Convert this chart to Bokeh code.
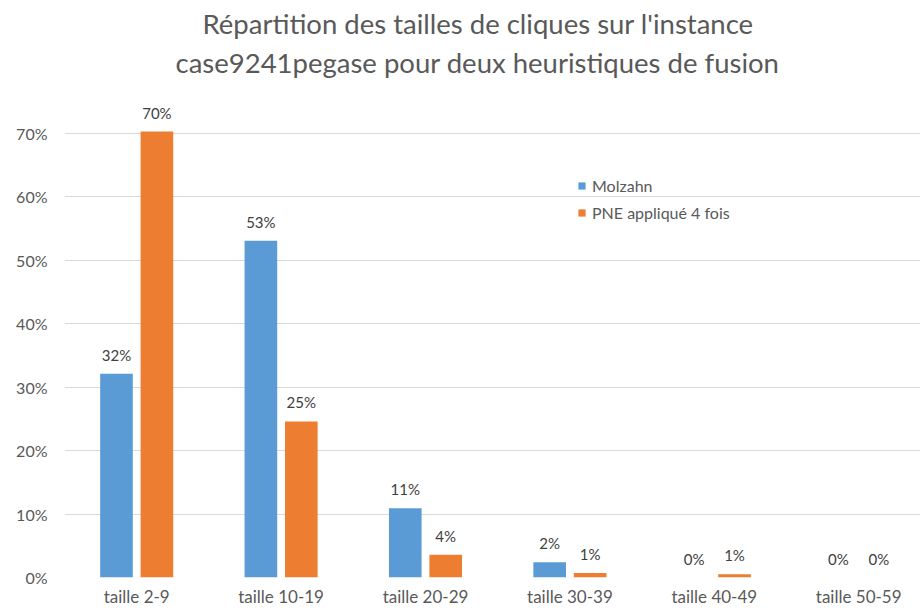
from bokeh.plotting import figure
from bokeh.models import ColumnDataSource, Range1d, FixedTicker, NumeralTickFormatter, Legend, LegendItem, Title
from bokeh.core.properties import value
from bokeh.embed import file_html
from bokeh.resources import INLINE

categories = ["taille 2-9", "taille 10-19", "taille 20-29", "taille 30-39", "taille 40-49", "taille 50-59"]
molzahn = [32.1, 53.1, 10.9, 2.4, 0.0, 0.0]
pne = [70.3, 24.6, 3.6, 0.7, 0.5, 0.0]
series_names = ["Molzahn", "PNE appliqué 4 fois"]
colors = ["#5B9BD5", "#ED7D31"]
y_ticks = [0, 0.1, 0.2, 0.3, 0.4, 0.5, 0.6, 0.7]
title_lines = ["Répartition des tailles de cliques sur l'instance",
               "case9241pegase pour deux heuristiques de fusion"]

FONT = "Lato"
idx = list(range(len(categories)))

def labels(vals):
    return [f"{int(v + 0.5)}%" for v in vals]

src_m = ColumnDataSource(dict(x=[i - 0.14 for i in idx], top=[v / 100 for v in molzahn], lab=labels(molzahn)))
src_p = ColumnDataSource(dict(x=[i + 0.14 for i in idx], top=[v / 100 for v in pne], lab=labels(pne)))

p = figure(width=920, height=609, output_backend="svg", toolbar_location=None,
           x_range=Range1d(-0.5, -0.5 + 856 / 144.4), y_range=Range1d(0, 0.774),
           min_border_left=64, min_border_right=0, min_border_top=86, min_border_bottom=30)
p.outline_line_color = None
p.background_fill_color = "white"
p.border_fill_color = "white"
p.title = None

# line closest to the frame first
for txt, off, so in ((title_lines[1], 111, 15), (title_lines[0], 138, -6)):
    p.add_layout(Title(text=txt, align="left", offset=off, text_font=FONT, text_font_size="27.5px",
                       text_font_style="normal", text_color="#595959", standoff=so), "above")

rm = p.vbar(x="x", top="top", width=0.226, bottom=0, source=src_m, fill_color=colors[0], line_color=None)
rp = p.vbar(x="x", top="top", width=0.226, bottom=0, source=src_p, fill_color=colors[1], line_color=None)

for src in (src_m, src_p):
    p.text(x="x", y="top", text="lab", source=src, text_align="center", text_baseline="middle",
           y_offset=-19, text_font=value(FONT), text_font_size="15px", text_color="#404040")

p.xaxis.ticker = FixedTicker(ticks=idx)
p.xaxis.major_label_overrides = {i: c for i, c in zip(idx, categories)}
p.yaxis.ticker = FixedTicker(ticks=y_ticks)
p.yaxis.formatter = NumeralTickFormatter(format="0%")
for ax in (p.xaxis, p.yaxis):
    ax.axis_line_color = None
    ax.major_tick_line_color = None
    ax.minor_tick_line_color = None
    ax.major_tick_out = 0
    ax.major_tick_in = 0
    ax.minor_tick_out = 0
    ax.minor_tick_in = 0
    ax.axis_label_standoff = 0
    ax.major_label_text_font = FONT
    ax.major_label_text_color = "#595959"
p.xaxis.major_label_text_font_size = "17px"
p.yaxis.major_label_text_font_size = "16px"
p.xaxis.major_label_standoff = 8
p.yaxis.major_label_standoff = 17

p.xgrid.grid_line_color = None
p.ygrid.ticker = FixedTicker(ticks=y_ticks)
p.ygrid.grid_line_color = "#D9D9D9"
p.ygrid.grid_line_width = 1

legend = Legend(items=[LegendItem(label=series_names[0], renderers=[rm]),
                       LegendItem(label=series_names[1], renderers=[rp])],
                location=(513, 355), glyph_width=9, glyph_height=9, label_standoff=6,
                spacing=8, padding=0, margin=0, border_line_color=None, background_fill_alpha=0,
                label_text_font=FONT, label_text_font_size="16px", label_text_color="#595959")
p.add_layout(legend)

open("out.html", "w").write(file_html(p, INLINE))
